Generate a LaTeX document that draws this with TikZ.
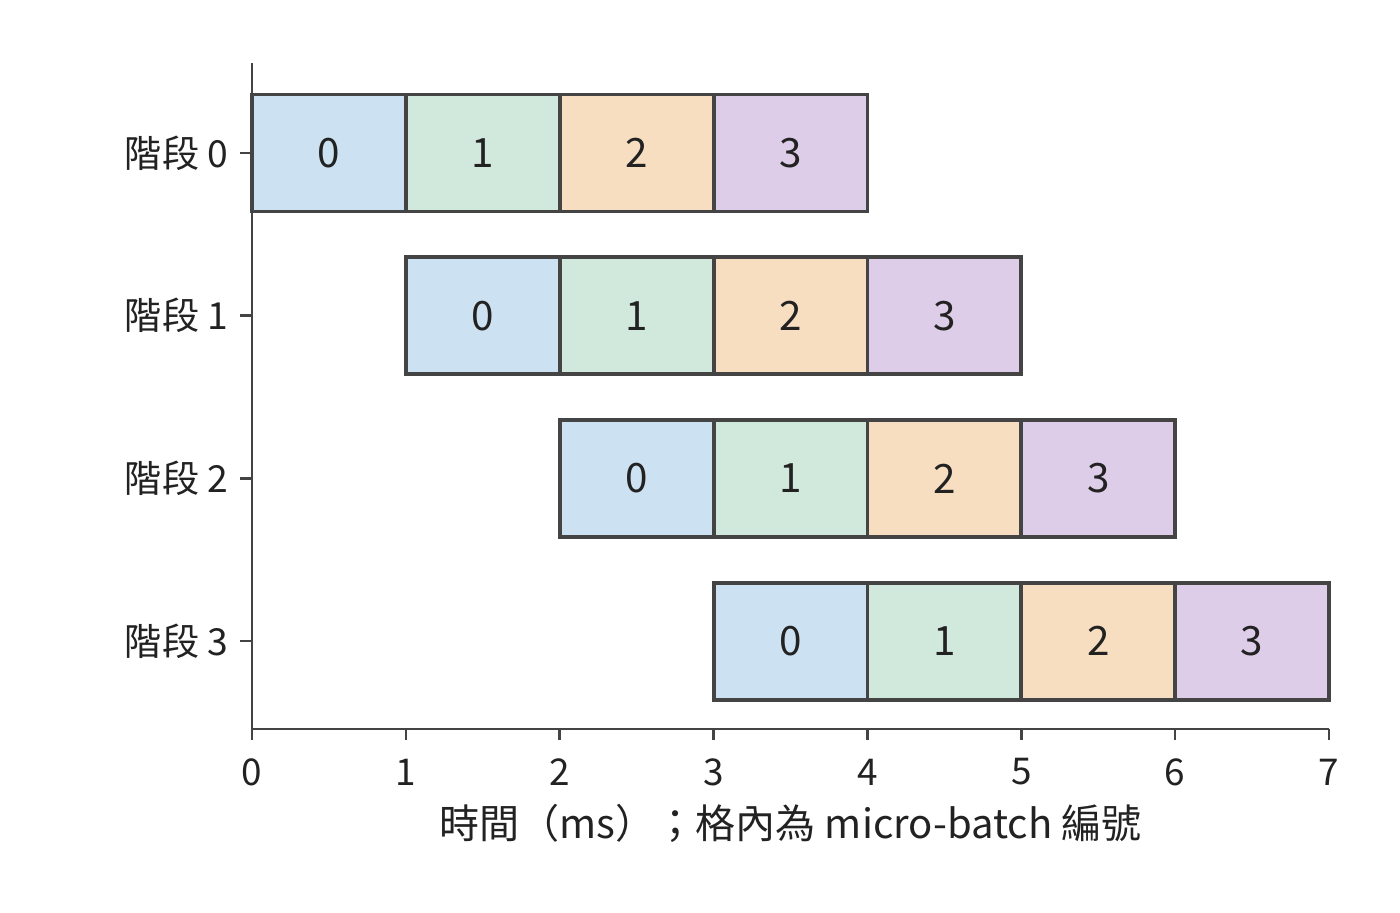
\documentclass[tikz,border=0pt]{standalone}
\usepackage{fontspec}
\setmainfont{Noto Sans CJK TC}
\usetikzlibrary{positioning,calc}
\definecolor{mbzero}{HTML}{CCE2F2}
\definecolor{mbone}{HTML}{D1E8DC}
\definecolor{mbtwo}{HTML}{F8DEC0}
\definecolor{mbthree}{HTML}{DDCDE8}
\definecolor{edgegray}{HTML}{444444}
\definecolor{txtgray}{HTML}{222222}

\begin{document}
\begin{tikzpicture}[
		mbbox/.style = {draw = edgegray, line width = 1.1pt, minimum width = 1.5386cm, minimum height = 1.17cm, inner sep = 0pt, outer sep = 0pt, text = txtgray, font = \fontsize{11.5}{13}\selectfont},
		ticklbl/.style = {text = txtgray, font = \fontsize{10.5}{12}\selectfont, inner sep = 0pt},
		spine/.style = {draw = edgegray, line width = 0.7pt}
	]
		\useasboundingbox (0,0) rectangle (14,9.12);
		\begin{scope}[shift = {(2.52,1.83)}, x = 1.5386cm]
		\coordinate (O) at (0,0);
		\coordinate (Xend) at (7,0);
		\coordinate (Ytop) at (0,6.66);
		
		% micro-batch boxes
		\foreach \s in {0,...,3} {
			\coordinate (row\s) at (0,{5.76-1.627*\s});
			\node[ticklbl, anchor = east, font = \fontsize{10.6}{12}\selectfont] (stage\s) at ($(row\s)+(-0.23cm,0)$) {階段 \s};
			\draw[spine] (row\s) -- ++(-0.12cm,0);
			\foreach \m/\col in {0/mbzero,1/mbone,2/mbtwo,3/mbthree} {
				\node[mbbox, fill = \col] (b\s\m) at ($(row\s)+({\s+\m+0.5},0)$) {\m};
			}
		}
		
		% axes
		\draw[spine] (Ytop) -- (O) -- (Xend);
		\foreach \t in {0,...,7} {
			\coordinate (tick\t) at (\t,0);
			\draw[spine] (tick\t) -- ++(0,-0.11cm);
			\node[ticklbl] (tl\t) at ($(tick\t)+(0,-0.43cm)$) {\t};
		}
		\node[ticklbl, font = \fontsize{11.4}{13}\selectfont] (xlabel) at ($(tl0)!0.5!(tl7)+(0,-0.51cm)$) {時間（ms）；格內為 micro-batch 編號};
		\end{scope}
	\end{tikzpicture}
\end{document}
